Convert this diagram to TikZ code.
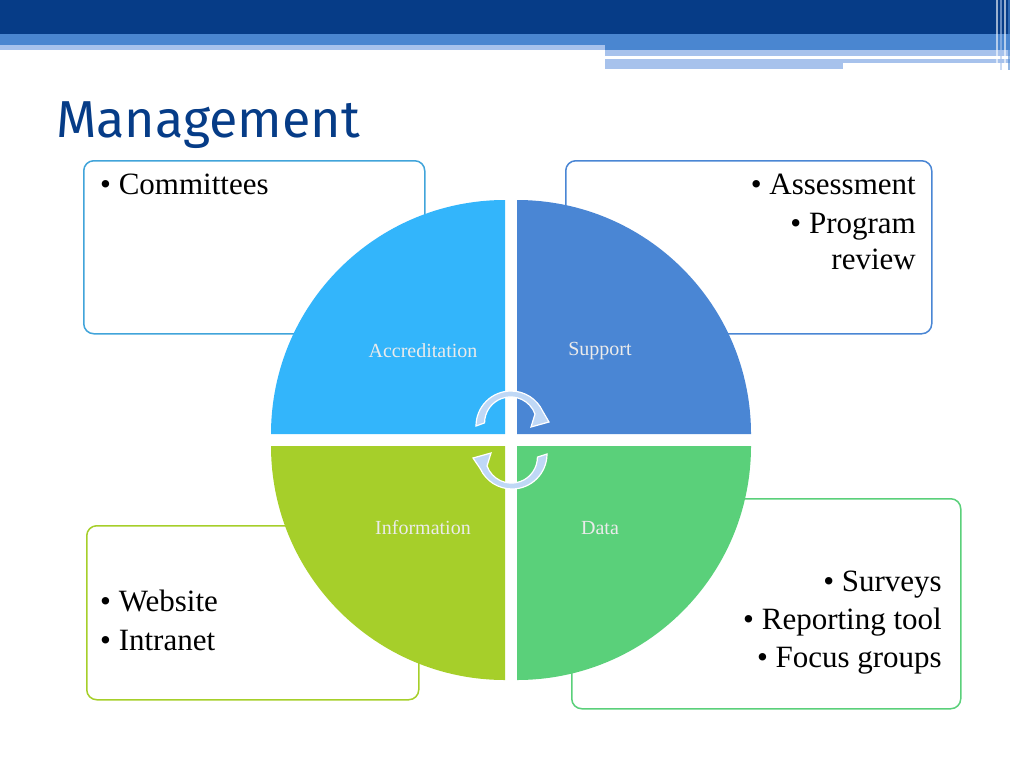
\documentclass[tikz,border=0pt]{standalone}
\usepackage{fontspec}
\setmainfont{Liberation Serif}
\newfontfamily\titlefont{Fira Sans}
\usetikzlibrary{arrows.meta}
\definecolor{dblue}{HTML}{063C87}
\definecolor{mblue}{HTML}{4A86D0}
\definecolor{lblue}{HTML}{A7C2EC}
\definecolor{qA}{HTML}{33B5FB}
\definecolor{qB}{HTML}{4A86D4}
\definecolor{qC}{HTML}{A6CF2A}
\definecolor{qD}{HTML}{5AD07A}
\definecolor{arr}{HTML}{BFD8F6}
\tikzset{
 box/.style={draw, line width=1.5pt, rounded corners=10pt, fill=white},
 btxt/.style={font=\fontsize{31}{36}\selectfont, align=right, inner sep=0pt},
 qlab/.style={font=\fontsize{20}{24}\selectfont, text=white!92!black, inner sep=0pt},
 carrow/.style={draw=white, line width=1.2pt, fill=arr}
}
\begin{document}
\begin{tikzpicture}[x=1pt,y=-1pt]
\useasboundingbox (0,0) rectangle (1024,768);
% header
\fill[dblue] (0,0) rectangle (1010,34);
\fill[mblue] (0,34) rectangle (1010,45);
\fill[lblue] (0,45) rectangle (605,50);
\fill[mblue] (605,45) rectangle (1010,50);
\fill[lblue] (605,50) rectangle (1010,56);
\fill[lblue] (605,59) rectangle (1010,66);
\fill[white] (843,63) rectangle (1010,68);
\fill[lblue] (605,66) rectangle (843,69);
\foreach \x/\c in {996/white,1000/lblue,1004/white,1008/mblue}{\fill[\c,opacity=.6] (\x,0) rectangle (\x+1.5,70);}
\node[anchor=west, text=dblue, font=\titlefont\fontsize{52}{60}\selectfont, inner sep=0pt] (title) at (56,125) {Management};
% boxes
\node[box, draw=qA!85!black!90, minimum width=341pt, minimum height=173pt, anchor=north west] (b1) at (83,160) {};
\node[box, draw=qB, minimum width=366pt, minimum height=173pt, anchor=north west] (b2) at (565,160) {};
\node[box, draw=qC, minimum width=332pt, minimum height=174pt, anchor=north west] (b3) at (86,525) {};
\node[box, draw=qD, minimum width=389pt, minimum height=210pt, anchor=north west] (b4) at (571,498) {};
\node[btxt, anchor=north west] (t1) at (100,174) {\textbullet\ Committees};
\node[btxt, anchor=north east] (t2) at (916,174) {\textbullet\ Assessment\\[3pt]\textbullet\ Program\\review};
\node[btxt, anchor=west, align=left] (t3) at (100,620) {\textbullet\ Website\\[3pt]\textbullet\ Intranet};
\node[btxt, anchor=east] (t4) at (942,623) {\textbullet\ Surveys\\[2pt]\textbullet\ Reporting tool\\[2pt]\textbullet\ Focus groups};
% quadrants
\fill[qA] (505,434) -- (271,434) arc[start angle=180, end angle=270, radius=234] -- cycle;
\fill[qB] (517,434) -- (517,200) arc[start angle=270, end angle=360, radius=234] -- cycle;
\fill[qC] (505,446) -- (505,680) arc[start angle=90, end angle=180, radius=234] -- cycle;
\fill[qD] (517,446) -- (751,446) arc[start angle=0, end angle=90, radius=234] -- cycle;
\node[qlab] (la) at (423,351) {Accreditation};
\node[qlab] (lb) at (600,351) {Support};
\node[qlab] (lc) at (423,528) {Information};
\node[qlab] (ld) at (600,528) {Data};
% circular arrows
\path[carrow] (476,426) arc[start angle=180, end angle=335, radius=35] -- (549,422) -- (531,427) -- (535,414)
  arc[start angle=340, end angle=180, radius=26] -- cycle;
\path[carrow] (547,454) arc[start angle=0, end angle=155, radius=35] -- (473,458) -- (491,453) -- (487,466)
  arc[start angle=160, end angle=0, radius=26] -- cycle;
\end{tikzpicture}
\end{document}
